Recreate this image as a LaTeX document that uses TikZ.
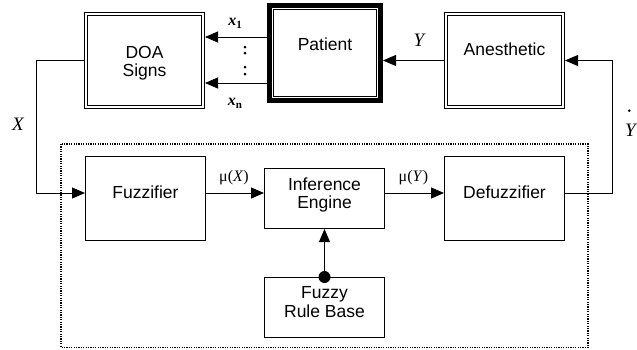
\documentclass[tikz,border=0pt]{standalone}
\usepackage{fontspec}
\setmainfont{Liberation Sans}
\newfontfamily\tms{Liberation Serif}
\usetikzlibrary{arrows.meta}

\begin{document}
\begin{tikzpicture}[x=1pt,y=-1pt,
  thin line/.style={line width=0.9pt},
  plainbox/.style={draw, thin line, inner sep=0pt, minimum width=120.1pt},
  dblbox/.style={draw, line width=0.8pt, double, double distance=2pt, inner sep=0pt,
                 outer sep=1.8pt, minimum width=117.4pt, minimum height=93.4pt},
  heavybox/.style={draw, line width=4.6pt, inner sep=0pt, outer sep=2.3pt,
                   minimum width=111.4pt, minimum height=95.4pt},
  boxtext/.style={font=\fontsize{17.5}{18.5}\selectfont, align=center, inner sep=0pt},
  mlabel/.style={font=\tms\fontsize{16}{16}\selectfont, inner sep=0pt, anchor=base},
  biglabel/.style={font=\tms\itshape\fontsize{19}{19}\selectfont, inner sep=0pt, anchor=base},
  arr/.style={thin line, -{Triangle[length=13pt,width=11pt]}},
  dotbox/.style={line width=1.2pt, dash pattern=on 1.2pt off 1.2pt}
]
\useasboundingbox (0,0) rectangle (637,349);

% controller frame
\draw[dotbox] (61,144) rectangle (588,347.5);

% plant side
\node[dblbox] (doa) at (144.5,60.5) {};
\node[heavybox] (patient) at (325,53) {};
\draw[thin line] (273.5,9.5) rectangle (376.5,96.5);
\node[dblbox] (anes) at (504.5,60.5) {};

% base anchor of a two-line node sits on its last line
\node[boxtext, anchor=base] (doaT) at (144.5,76.5) {DOA\\Signs};
\node[boxtext, anchor=base] (patT) at (325,50) {Patient};
\node[boxtext, anchor=base] (anesT) at (504.5,55) {Anesthetic};

% fuzzy controller blocks
\node[plainbox, minimum height=84.1pt] (fuzz) at (145.5,198.5) {};
\node[plainbox, minimum height=60.1pt] (inf) at (324.5,198.5) {};
\node[plainbox, minimum height=84.1pt] (defuzz) at (504.5,198.5) {};
\node[plainbox, minimum height=60.1pt] (rule) at (324.5,307.5) {};

\node[boxtext, anchor=base] (fuzzT) at (145.5,198) {Fuzzifier};
\node[boxtext, anchor=base] (infT) at (324.5,208.5) {Inference\\Engine};
\node[boxtext, anchor=base] (defuzzT) at (504.5,198) {Defuzzifier};
\node[boxtext, anchor=base] (ruleT) at (324.5,317) {Fuzzy\\Rule Base};

% measured signals
\coordinate (s1) at ([yshift=16pt]patient.west);
\coordinate (sn) at ([yshift=-30pt]patient.west);
\draw[arr] (s1) -- (s1 -| doa.east);
\draw[arr] (sn) -- (sn -| doa.east);
\foreach \yy in {47,53,67,74} \fill (245,\yy) circle (1.5pt);
\node[mlabel] (x1) at (235,25.5) {{\bfseries\itshape x}\raisebox{-3pt}{\bfseries\fontsize{11}{11}\selectfont 1}};
\node[mlabel] (xn) at (235,105.5) {{\bfseries\itshape x}\raisebox{-3pt}{\bfseries\fontsize{11}{11}\selectfont n}};

% drug input
\draw[arr] (anes.west) -- (anes.west -| patient.east);
\node[biglabel] (yl) at (419,46.5) {Y};

% feedback into controller
\coordinate (fin) at ([yshift=5.5pt]fuzz.west);
\draw[arr] (doa.west) -- ++(-48,0) |- (fin);
\node[biglabel] (xl) at (18,130) {X};

\coordinate (fout) at ([yshift=5.5pt]fuzz.east);
\draw[arr] (fout) -- (fout -| inf.west);
\node[mlabel] (mux) at (234,181) {μ(\textit{X})};

\coordinate (iout) at ([yshift=5.5pt]inf.east);
\draw[arr] (iout) -- (iout -| defuzz.west);
\node[mlabel] (muy) at (413.5,181) {μ(\textit{Y})};

\coordinate (dout) at ([yshift=5.5pt]defuzz.east);
\draw[arr] (dout) -- ++(47,0) |- (anes.east);
\node[biglabel] (ydot) at (630.5,136) {Y};
\fill (629.3,110.7) circle (1.4pt);

% rule base to inference engine
\draw[arr] (rule.north) -- (inf.south);
\fill (rule.north) circle (6pt);
\end{tikzpicture}
\end{document}
